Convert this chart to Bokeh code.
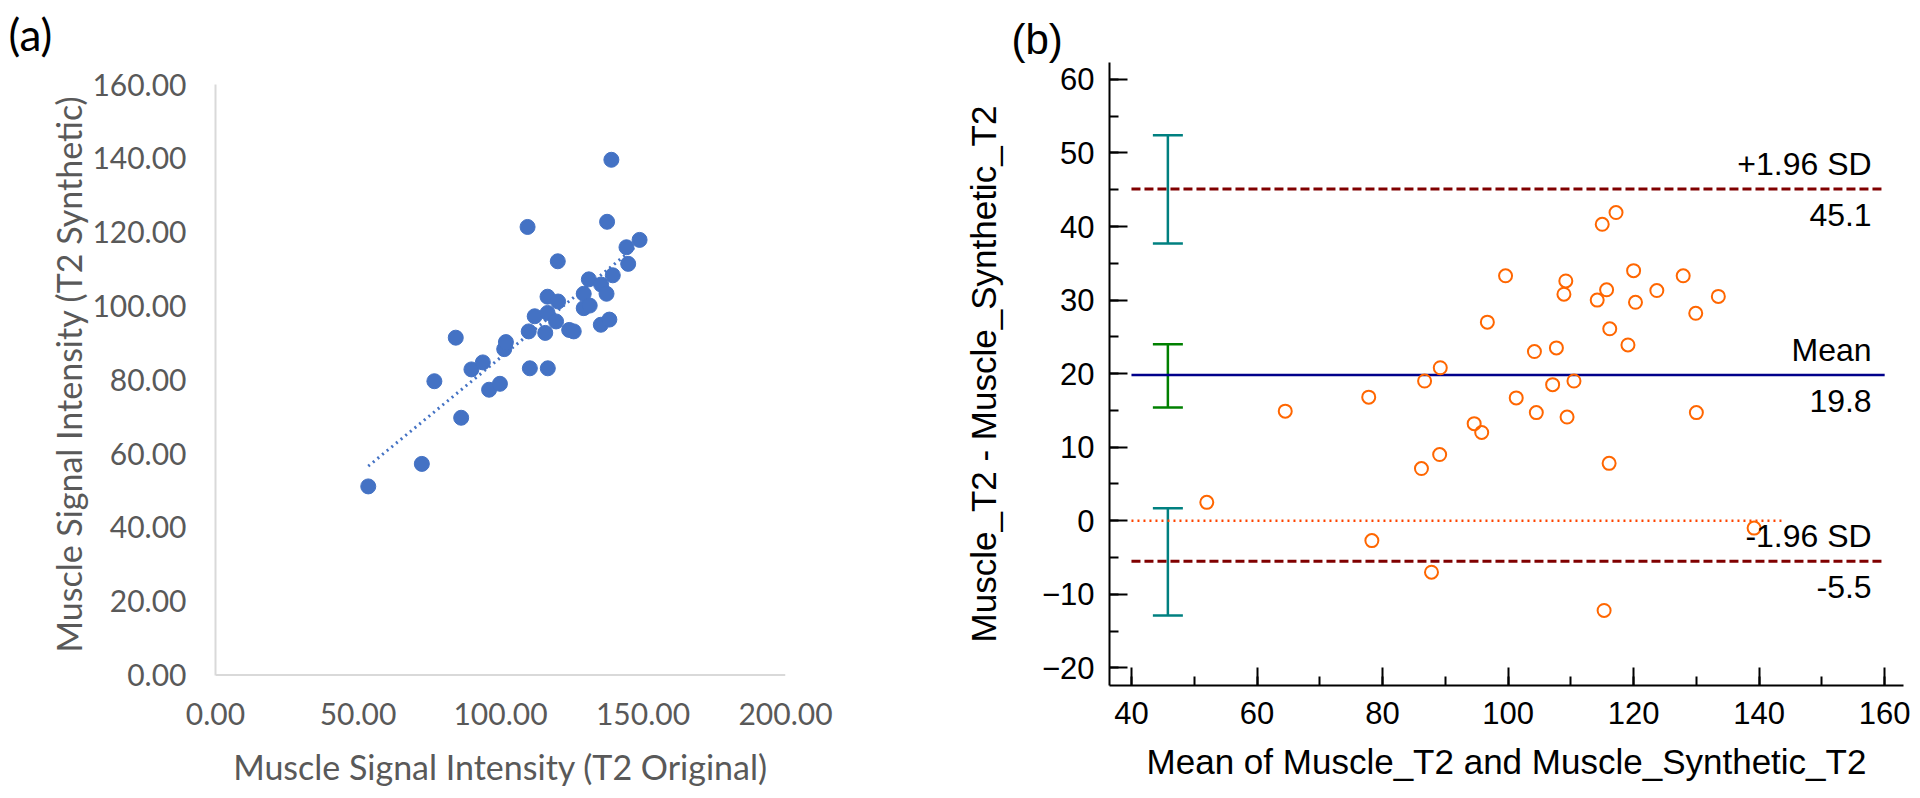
import numpy as np
from bokeh.plotting import figure
from bokeh.layouts import row
from bokeh.models import (ColumnDataSource, Range1d, SingleIntervalTicker, FixedTicker,
                          Title, Span, Whisker, TeeHead, NumeralTickFormatter)
from bokeh.embed import file_html
from bokeh.resources import INLINE
from bokeh.core.properties import value

# ---------------- Panel (a): scatter ----------------
t2_original = [53.6, 72.4, 86.2, 76.8, 84.3, 89.8, 93.8, 96.0, 99.8, 101.3, 101.9,
               109.5, 109.9, 110.3, 112.0, 115.7, 116.5, 116.5, 116.6, 119.5, 120.2,
               120.1, 124.1, 125.7, 129.2, 129.2, 131.0, 131.3, 135.2, 138.2, 135.3,
               137.2, 137.4, 138.9, 139.4, 144.8, 144.2, 148.8]
t2_synthetic = [51.1, 57.2, 69.7, 79.6, 91.4, 82.8, 84.7, 77.3, 78.9, 88.3, 90.2,
                121.4, 93.1, 83.1, 97.2, 92.7, 102.5, 98.1, 83.1, 95.8, 101.2,
                112.1, 93.5, 93.1, 99.4, 103.3, 107.2, 100.1, 94.9, 96.3, 105.8,
                103.3, 122.8, 139.6, 108.3, 111.4, 115.9, 117.9]
a_xticks = [0, 50, 100, 150, 200]
a_yticks = [0, 20, 40, 60, 80, 100, 120, 140, 160]

# ---------------- Panel (b): Bland-Altman ----------------
ba_mean = [52.0, 64.5, 77.8, 78.3, 86.7, 86.2, 89.2, 89.1, 87.8, 94.6, 95.8, 96.7,
           99.6, 101.3, 104.2, 104.5, 107.1, 107.7, 108.9, 109.2, 109.4, 110.5,
           114.2, 115.0, 115.7, 116.1, 116.2, 115.3, 117.2, 119.1, 120.0, 120.3,
           123.7, 127.9, 129.9, 130.0, 133.5, 139.2]
ba_diff = [2.5, 14.9, 16.8, -2.7, 19.0, 7.1, 20.8, 9.0, -7.0, 13.2, 12.0, 27.0,
           33.3, 16.7, 23.0, 14.7, 18.5, 23.5, 30.8, 32.6, 14.1, 19.0,
           30.0, 40.3, 31.4, 7.8, 26.1, -12.2, 41.9, 23.9, 34.0, 29.7,
           31.3, 33.3, 28.2, 14.7, 30.5, -1.0]
line_names = ["+1.96 SD", "Mean", "-1.96 SD"]
line_values = [45.1, 19.8, -5.5]
ci_lower = [37.7, 15.4, -12.9]
ci_upper = [52.4, 24.0, 1.7]
ci_colors = ["#008080", "#008000", "#008080"]
ci_x = 45.8
line_x = [40, 160]
zero_x = [40, 144.2]
b_xticks = [40, 60, 80, 100, 120, 140, 160]
b_yticks = [-20, -10, 0, 10, 20, 30, 40, 50, 60]

GREY = "#595959"
BLUE = "#4472C4"
H = 798
TOP, FRAME_H = 62, 623
BOTTOM = H - TOP - FRAME_H

# ---------- figure (a) ----------
# y range chosen so that 0..160 occupies the same pixels as in the original
a_px_per_unit = 590.5 / 160.0
a_y0 = 0 - (TOP + FRAME_H - 674.5) / a_px_per_unit
a_y1 = 160 + (84 - TOP) / a_px_per_unit
pa = figure(frame_width=570, frame_height=FRAME_H, min_border_left=215, min_border_right=175,
            min_border_top=TOP, min_border_bottom=BOTTOM, output_backend="svg",
            toolbar_location=None, x_range=Range1d(0, 200), y_range=Range1d(a_y0, a_y1))
pa.outline_line_color = None
pa.grid.visible = False
for ax in (pa.xaxis[0], pa.yaxis[0]):
    ax.axis_line_color = "#d9d9d9"
    ax.axis_line_width = 2
    ax.major_tick_line_color = None
    ax.minor_tick_line_color = None
    ax.major_tick_out = 0
    ax.major_tick_in = 0
    ax.minor_tick_out = 0
    ax.minor_tick_in = 0
    ax.major_label_text_font = "Lato"
    ax.major_label_text_font_size = "30px"
    ax.major_label_text_color = GREY
    ax.axis_label_text_font = "Lato"
    ax.axis_label_text_font_size = "34px"
    ax.axis_label_text_color = GREY
    ax.axis_label_text_font_style = "normal"
    ax.formatter = NumeralTickFormatter(format="0.00")
pa.xaxis.ticker = FixedTicker(ticks=a_xticks)
pa.yaxis.ticker = FixedTicker(ticks=a_yticks)
pa.yaxis.bounds = (a_yticks[0], a_yticks[-1])
pa.xaxis.axis_line_color = None
pa.add_layout(Span(location=a_yticks[0], dimension="width", line_color="#d9d9d9",
                   line_width=2))
pa.xaxis.axis_label = "Muscle Signal Intensity (T2 Original)"
pa.yaxis.axis_label = "Muscle Signal Intensity (T2 Synthetic)"
pa.xaxis.major_label_standoff = 17
pa.yaxis.major_label_standoff = 29
pa.xaxis.axis_label_standoff = 18
pa.yaxis.axis_label_standoff = 0

# linear trend line (least squares on the data)
slope, intercept = np.polyfit(t2_original, t2_synthetic, 1)
tx = np.array([min(t2_original), max(t2_original)])
pa.line(tx, slope * tx + intercept, line_color=BLUE, line_width=3, line_dash="2 4")
pa.scatter(t2_original, t2_synthetic, marker="circle", size=15, fill_color=BLUE,
           line_color=BLUE)
pa.add_layout(Title(text="(a)", align="left", offset=-207, standoff=5,
                    text_font="Lato", text_font_size="44px", text_color="black",
                    text_font_style="normal"), "above")

# ---------- figure (b) ----------
pb = figure(frame_width=794, frame_height=FRAME_H, min_border_left=147, min_border_right=19,
            min_border_top=TOP, min_border_bottom=BOTTOM, output_backend="svg",
            toolbar_location=None, x_range=Range1d(36.5, 163), y_range=Range1d(-22.4, 62.3))
pb.outline_line_color = None
pb.grid.visible = False
for ax in (pb.xaxis[0], pb.yaxis[0]):
    ax.axis_line_color = "black"
    ax.axis_line_width = 2
    ax.major_tick_line_color = "black"
    ax.major_tick_line_width = 2
    ax.major_tick_in = 18
    ax.major_tick_out = 0
    ax.minor_tick_line_color = "black"
    ax.minor_tick_line_width = 2
    ax.minor_tick_in = 9
    ax.minor_tick_out = 0
    ax.major_label_text_font = "Liberation Sans"
    ax.major_label_text_font_size = "31px"
    ax.major_label_text_color = "black"
    ax.axis_label_text_font = "Liberation Sans"
    ax.axis_label_text_font_size = "35px"
    ax.axis_label_text_color = "black"
    ax.axis_label_text_font_style = "normal"
pb.xaxis.ticker = SingleIntervalTicker(interval=20, num_minor_ticks=2)
pb.yaxis.ticker = SingleIntervalTicker(interval=10, num_minor_ticks=2)
pb.xaxis.axis_label = "Mean of Muscle_T2 and Muscle_Synthetic_T2"
pb.yaxis.axis_label = "Muscle_T2 - Muscle_Synthetic_T2"
pb.xaxis.major_label_standoff = 16
pb.yaxis.major_label_standoff = 15
pb.xaxis.axis_label_standoff = 15
pb.yaxis.axis_label_standoff = 36

# zero line
pb.line(zero_x, [0, 0], line_color="#FF4500", line_width=2.5, line_dash="2 4")
# limits of agreement and mean
pb.line(line_x, [line_values[0]] * 2, line_color="#800000", line_width=3, line_dash="9 4")
pb.line(line_x, [line_values[2]] * 2, line_color="#800000", line_width=3, line_dash="9 4")
pb.line(line_x, [line_values[1]] * 2, line_color="#00008B", line_width=2.5)

# confidence intervals
for lo, hi, col in zip(ci_lower, ci_upper, ci_colors):
    src = ColumnDataSource(dict(base=[ci_x], lower=[lo], upper=[hi]))
    pb.add_layout(Whisker(source=src, base="base", lower="lower", upper="upper",
                          dimension="height", line_color=col, line_width=2.5,
                          upper_head=TeeHead(size=30, line_color=col, line_width=2.5),
                          lower_head=TeeHead(size=30, line_color=col, line_width=2.5)))

pb.scatter(ba_mean, ba_diff, marker="circle", size=13, fill_color=None,
           line_color="#FF6600", line_width=2)

lab_src = ColumnDataSource(dict(x=[line_x[1]] * 3, y=line_values, name=line_names,
                                val=["%.1f" % v for v in line_values]))
pb.text(x="x", y="y", text="name", source=lab_src, text_align="right",
        text_baseline="alphabetic", x_offset=-13, y_offset=-25,
        text_font=value("Liberation Sans"), text_font_size="32px", text_color="black")
pb.text(x="x", y="y", text="val", source=lab_src, text_align="right",
        text_baseline="alphabetic", x_offset=-13, y_offset=26,
        text_font=value("Liberation Sans"), text_font_size="32px", text_color="black")
pb.add_layout(Title(text="(b)", align="left", offset=-98, standoff=0,
                    text_font="Liberation Sans", text_font_size="42px",
                    text_color="black", text_font_style="normal"), "above")

layout = row(pa, pb)
open("out.html", "w").write(file_html(layout, INLINE))
